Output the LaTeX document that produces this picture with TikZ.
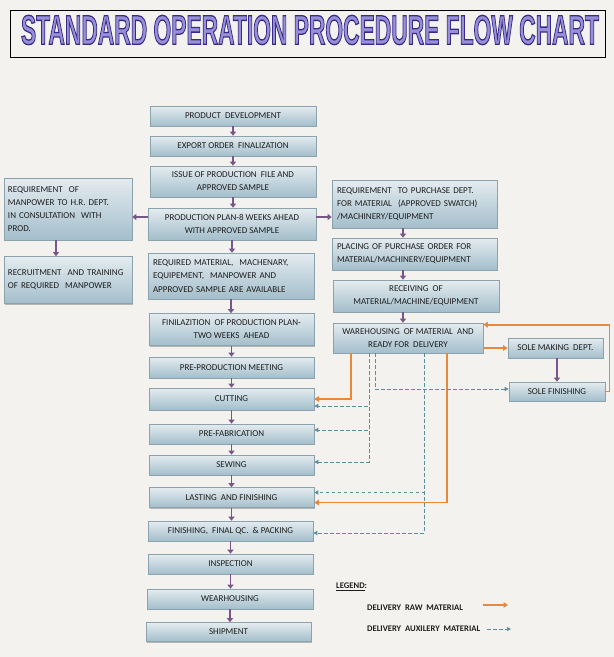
\documentclass[tikz,border=0pt]{standalone}
\usepackage{fontspec}
\setmainfont{Carlito}
\newfontfamily\titlefont{Liberation Sans}
\usepackage{graphicx}
\usetikzlibrary{shadows,calc,arrows.meta}
\definecolor{bg}{HTML}{F3F2EF}
\definecolor{boxtop}{HTML}{E4ECF0}
\definecolor{boxbot}{HTML}{A3BECB}
\definecolor{boxedge}{HTML}{8CA3AE}
\definecolor{txt}{HTML}{1E1E1E}
\definecolor{purp}{HTML}{7A5688}
\definecolor{orng}{HTML}{E8883C}
\definecolor{teal}{HTML}{5C8E9E}
\definecolor{titlefill}{HTML}{9591D4}
\newcommand\outl[1]{\special{pdf:code 2 Tr 0.32 w 0.23 0.16 0.54 RG}#1\special{pdf:code 0 Tr}}
\begin{document}
\begin{tikzpicture}[x=1pt,y=-1pt,
  box/.style={draw=boxedge, line width=0.6pt, top color=boxtop, bottom color=boxbot,
    drop shadow={shadow xshift=1.2pt, shadow yshift=-1.4pt, fill=black, opacity=0.25},
    font=\fontsize{9}{13.2}\selectfont, text=txt, inner sep=0pt, align=center},
  sz/.style 2 args={minimum width=#1pt, minimum height=#2pt},
  lbox/.style={align=left, text width=#1pt},
  flow/.style={draw=purp, line width=1.8pt, -{Triangle[width=6pt,length=4pt]}},
  raw/.style={draw=orng, line width=1.6pt, -{Triangle[width=5.5pt,length=4.5pt]}},
  aux/.style={draw=teal, line width=0.7pt, dash pattern=on 3.5pt off 2.5pt, -{Triangle[width=4pt,length=4pt]}},
  legtext/.style={font=\fontsize{8.6}{10}\selectfont\bfseries, text=txt, inner sep=0pt, anchor=west}
]
\useasboundingbox (0,0) rectangle (614,657);
\fill[bg] (0,0) rectangle (614,657);

% title
\node[draw=black, line width=0.8pt, sz={595}{47}, inner sep=0pt] (tbox) at (307.5,33.5) {};
\node[inner sep=0pt, text=titlefill] (title) at (310,30)
  {\resizebox{578pt}{29pt}{\titlefont\bfseries\outl{STANDARD OPERATION PROCEDURE FLOW CHART}}};

% middle column
\node[box, sz={166}{20}] (pd) at (233,116) {PRODUCT\ \ DEVELOPMENT};
\node[box, sz={166}{20}] (eo) at (233,146) {EXPORT ORDER\ \ FINALIZATION};
\node[box, sz={166}{31}] (ip) at (233,181.5) {ISSUE OF PRODUCTION\ \ FILE AND\\APPROVED SAMPLE};
\node[box, sz={168}{32}] (pp) at (232,224) {PRODUCTION PLAN-8 WEEKS AHEAD\\WITH APPROVED SAMPLE};
\node[box, sz={166}{46}, lbox=156] (rm) at (231,276) {REQUIRED MATERIAL,\ \ MACHENARY,\\EQUIPEMENT,\ \ MANPOWER AND\\APPROVED SAMPLE ARE AVAILABLE};
\node[box, sz={165}{32}] (fp) at (231.5,329.5) {FINILAZITION\ \ OF PRODUCTION PLAN-\\TWO WEEKS\ \ AHEAD};
\node[box, sz={165}{21}] (ppm) at (231.5,367.5) {PRE-PRODUCTION MEETING};
\node[box, sz={165}{22}] (cut) at (231.5,399) {CUTTING};
\node[box, sz={165}{20}] (pf) at (231.5,434) {PRE-FABRICATION};
\node[box, sz={165}{20}] (sew) at (231.5,465) {SEWING};
\node[box, sz={165}{20}] (las) at (231.5,497.5) {LASTING\ \ AND FINISHING};
\node[box, sz={165}{20}] (fin) at (230.5,531) {FINISHING,\ \ FINAL QC.\ \ \&\ PACKING};
\node[box, sz={165}{20}] (ins) at (230.5,564) {INSPECTION};
\node[box, sz={166}{20}] (wh) at (230,599) {WEARHOUSING};
\node[box, sz={165}{19}] (sh) at (228.5,632) {SHIPMENT};

% left column
\node[box, sz={128}{62}, lbox=120] (lm) at (68,209) {REQUIREMENT\ \ OF\\MANPOWER TO H.R. DEPT.\\IN CONSULTATION\ \ WITH\\PROD.};
\node[box, sz={128}{47}, lbox=120] (lr) at (68,280) {RECRUITMENT\ \ AND TRAINING\\OF REQUIRED\ \ MANPOWER};

% right column
\node[box, sz={165}{48}, lbox=155] (rp) at (414.5,204) {REQUIREMENT\ \ TO PURCHASE DEPT.\\FOR MATERIAL\ \ (APPROVED SWATCH)\\/MACHINERY/EQUIPMENT};
\node[box, sz={165}{32}, lbox=155] (po) at (414.5,254) {PLACING OF PURCHASE ORDER FOR\\MATERIAL/MACHINERY/EQUIPMENT};
\node[box, sz={166}{32}] (rv) at (416,296) {RECEIVING\ \ OF\\MATERIAL/MACHINE/EQUIPMENT};
\node[box, sz={150}{30}] (wm) at (408,338) {WAREHOUSING\ \ OF MATERIAL\ \ AND\\READY FOR\ \ DELIVERY};
\node[box, sz={95}{20}] (sm) at (555.5,348) {SOLE MAKING\ \ DEPT.};
\node[box, sz={96}{19}] (sf) at (557,391.5) {SOLE FINISHING};

% main flow
\draw[flow] (pd.south) -- (pd.south |- eo.north);
\draw[flow] (eo.south) -- (eo.south |- ip.north);
\draw[flow] (ip.south) -- (ip.south |- pp.north);
\draw[flow] (pp.south) -- (pp.south |- rm.north);
\draw[flow] (rm.south) -- (rm.south |- fp.north);
\draw[flow] (fp.south) -- (fp.south |- ppm.north);
\draw[flow] (ppm.south) -- (ppm.south |- cut.north);
\draw[flow] (cut.south) -- (cut.south |- pf.north);
\draw[flow] (pf.south) -- (pf.south |- sew.north);
\draw[flow] (sew.south) -- (sew.south |- las.north);
\draw[flow] (las.south) -- (las.south |- fin.north);
\draw[flow] (fin.south) -- (fin.south |- ins.north);
\draw[flow] (ins.south) -- (ins.south |- wh.north);
\draw[flow] (wh.south) -- (wh.south |- sh.north);
% side flows
\draw[flow] ([yshift=7pt]pp.west) -- ([yshift=7pt]pp.west -| lm.east);
\draw[flow] ([yshift=7pt]pp.east) -- ([yshift=7pt]pp.east -| rp.west);
\draw[flow] (lm.south -| 56,0) -- (lr.north -| 56,0);
\draw[flow] (rp.south -| 403,0) -- (po.north -| 403,0);
\draw[flow] (po.south -| 403,0) -- (rv.north -| 403,0);
\draw[flow] (rv.south -| 403,0) -- (wm.north -| 403,0);
\draw[flow] (sm.south -| sf.north) -- (sf.north);

% raw material deliveries
\draw[raw] (wm.east |- sm.west) -- (sm.west);
\draw[raw] (sf.east) -- ++(4,0) |- ([yshift=-2pt]wm.north east);
\draw[raw] (wm.south -| 351,0) |- (cut.east);
\draw[raw] (wm.south -| 447,0) |- ([yshift=-5pt]las.east);

% auxiliary deliveries
\draw[aux] (wm.south -| 375,0) |- (sf.west |- 0,389);
\draw[aux] (wm.south -| 369,0) |- ([yshift=-7pt]cut.east);
\draw[aux] (wm.south -| 369,0) |- ([yshift=4pt]pf.east);
\draw[aux] (wm.south -| 369,0) |- ([yshift=3pt]sew.east);
\draw[aux] (wm.south -| 424,0) |- ([yshift=5pt]las.east);
\draw[aux] (wm.south -| 424,0) |- ([yshift=-2pt]fin.east);

% legend
\node[legtext] (leg) at (336,587) {\underline{LEGEND}:};
\node[legtext] (lraw) at (367,608) {DELIVERY\ \ RAW\ \ MATERIAL};
\node[legtext] (laux) at (367,629) {DELIVERY\ \ AUXILERY\ \ MATERIAL};
\coordinate (r1) at (483,605);
\coordinate (r2) at (508,605);
\coordinate (a1) at (487,629);
\coordinate (a2) at (511,629);
\draw[raw] (r1) -- (r2);
\draw[aux] (a1) -- (a2);
\end{tikzpicture}
\end{document}
